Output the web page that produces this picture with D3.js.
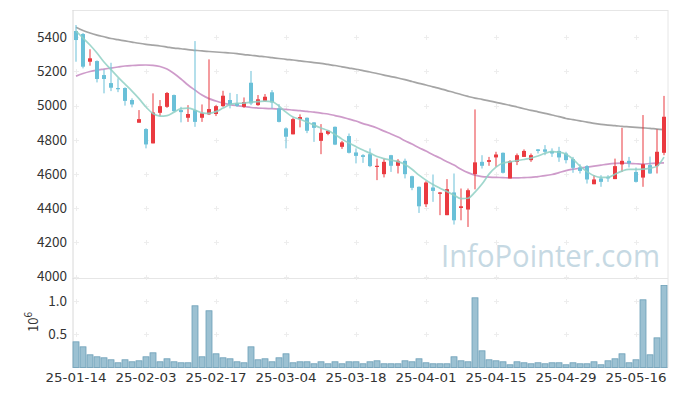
<!DOCTYPE html>
<html><head><meta charset="utf-8">
<script src="https://cdn.jsdelivr.net/npm/d3@7"></script>
<style>body{margin:0;background:#fff}svg{display:block}</style>
</head><body><svg id="c" width="677" height="396"></svg>
<script>
const dates = ["2025-01-14","2025-01-15","2025-01-16","2025-01-17","2025-01-20","2025-01-21","2025-01-22","2025-01-23","2025-01-24","2025-01-31",
"2025-02-03","2025-02-04","2025-02-05","2025-02-06","2025-02-07","2025-02-10","2025-02-11","2025-02-12","2025-02-13","2025-02-14",
"2025-02-17","2025-02-18","2025-02-19","2025-02-20","2025-02-21","2025-02-24","2025-02-25","2025-02-26","2025-02-27","2025-02-28",
"2025-03-04","2025-03-05","2025-03-06","2025-03-07","2025-03-10","2025-03-11","2025-03-12","2025-03-13","2025-03-14","2025-03-17",
"2025-03-18","2025-03-19","2025-03-20","2025-03-21","2025-03-24","2025-03-25","2025-03-26","2025-03-27","2025-03-28","2025-03-31",
"2025-04-01","2025-04-02","2025-04-03","2025-04-04","2025-04-07","2025-04-08","2025-04-09","2025-04-10","2025-04-11","2025-04-14",
"2025-04-15","2025-04-16","2025-04-17","2025-04-18","2025-04-21","2025-04-22","2025-04-23","2025-04-24","2025-04-25","2025-04-28",
"2025-04-29","2025-04-30","2025-05-02","2025-05-07","2025-05-08","2025-05-09","2025-05-12","2025-05-13","2025-05-14","2025-05-15",
"2025-05-16","2025-05-19","2025-05-20","2025-05-21","2025-05-22"];
const open  = [5437,5419,5257,5261,5179,5132,5103,5103,5033,4900, 4863,4779,4958,4993,5062,4974,4929,4974,4929,4949,
 4951,4997,5033,5013,4993,5134,5003,5028,5078,4984, 4867,4832,4921,4929,4902,4794,4835,4876,4759,4822,
 4726,4710,4716,4642,4599,4710,4648,4677,4587,4525, 4423,4521,4484,4359,4492,4401,4392,4599,4671,4671,
 4697,4724,4574,4671,4700,4681,4744,4744,4735,4735, 4720,4687,4638,4646,4540,4574,4583,4570,4656,4677,
 4612,4579,4652,4646,4724];
const high  = [5472,5425,5330,5265,5212,5251,5160,5107,5043,4974, 4868,5072,5033,5080,5065,4993,5003,5378,5007,5271,
 5003,5087,5075,5068,5048,5203,5062,5068,5091,5009, 4873,4929,4949,4931,4904,4892,4857,4878,4794,4837,
 4750,4716,4750,4690,4690,4712,4687,4690,4590,4527, 4558,4597,4495,4570,4603,4515,4515,4978,4710,4700,
 4730,4726,4681,4720,4744,4720,4746,4769,4750,4759, 4730,4700,4657,4652,4593,4593,4593,4690,4870,4700,
 4638,4945,4702,4861,5057];
const low   = [5257,5218,5234,5136,5072,5085,5079,5000,4990,4900, 4750,4779,4939,4987,4964,4902,4905,4876,4905,4945,
 4939,4993,4984,4993,4987,5003,4999,5023,4984,4902, 4750,4832,4873,4839,4788,4716,4827,4769,4747,4720,
 4662,4665,4640,4564,4580,4612,4603,4574,4505,4372, 4407,4437,4359,4359,4304,4329,4290,4510,4632,4648,
 4642,4603,4574,4652,4700,4671,4720,4710,4700,4671, 4662,4607,4603,4544,4540,4525,4554,4570,4612,4638,
 4550,4525,4600,4603,4710];
const close = [5384,5228,5277,5156,5156,5105,5099,5028,5007,4921, 4773,4960,4997,5074,4968,4962,4951,4905,4955,4980,
 4997,5058,5007,4999,5021,5013,5037,5052,5019,4905, 4818,4921,4933,4853,4870,4841,4853,4772,4785,4724,
 4706,4700,4646,4648,4671,4648,4677,4599,4519,4411, 4550,4501,4492,4511,4329,4411,4505,4668,4648,4681,
 4714,4607,4675,4710,4735,4710,4735,4730,4720,4697, 4681,4636,4618,4568,4568,4554,4574,4646,4677,4662,
 4554,4657,4603,4730,4935];
// volume in millions of shares
const volume = [0.386,0.311,0.191,0.161,0.146,0.116,0.071,0.116,0.086,0.101, 0.161,0.221,0.086,0.131,0.086,0.071,0.071,0.928,0.161,0.853,
 0.206,0.146,0.131,0.086,0.071,0.311,0.116,0.131,0.086,0.146, 0.206,0.071,0.086,0.086,0.056,0.086,0.056,0.086,0.056,0.086,
 0.086,0.056,0.086,0.101,0.056,0.056,0.056,0.101,0.086,0.131, 0.071,0.056,0.056,0.056,0.161,0.101,0.086,1.048,0.251,0.116,
 0.101,0.086,0.041,0.086,0.071,0.056,0.071,0.056,0.071,0.071, 0.041,0.071,0.056,0.056,0.086,0.041,0.101,0.131,0.206,0.071,
 0.116,1.018,0.191,0.446,1.233];
const maShort = [5437,5396,5355,5308,5255,5211,5167,5126,5085,5041, 4992,4954,4939,4942,4962,4983,4986,4974,4958,4955,
 4965,4986,5006,5013,5015,5021,5023,5027,5024,4997, 4962,4933,4920,4904,4886,4869,4854,4831,4804,4781,
 4760,4740,4722,4702,4690,4681,4672,4655,4628,4593, 4564,4538,4517,4497,4476,4456,4458,4494,4541,4599,
 4640,4664,4671,4678,4685,4693,4705,4721,4731,4728, 4716,4687,4646,4614,4590,4580,4580,4599,4617,4627,
 4627,4628,4634,4646,4699];
const maMid = [5173,5188,5200,5208,5214,5220,5226,5232,5235,5237, 5238,5236,5229,5214,5188,5156,5121,5091,5062,5041,
 5027,5015,5006,5000,4995,4989,4986,4984,4982,4980, 4978,4974,4971,4966,4962,4956,4951,4942,4933,4921,
 4910,4895,4883,4869,4851,4834,4816,4795,4775,4754, 4734,4713,4693,4672,4652,4628,4608,4593,4585,4582,
 4580,4579,4577,4577,4579,4580,4585,4590,4597,4608, 4620,4628,4634,4640,4646,4652,4658,4662,4664,4662,
 4660,4658,4661,4664,4665];
const maLong = [5459,5440,5425,5413,5403,5393,5386,5379,5372,5365, 5359,5354,5349,5343,5337,5333,5328,5324,5320,5317,
 5314,5311,5308,5304,5299,5295,5290,5286,5281,5276, 5271,5267,5262,5257,5252,5247,5241,5235,5227,5220,
 5213,5205,5197,5188,5179,5170,5162,5152,5141,5130, 5121,5110,5100,5088,5077,5065,5054,5044,5037,5028,
 5019,5010,5002,4992,4982,4972,4964,4955,4945,4936, 4925,4918,4911,4904,4896,4890,4886,4883,4879,4876,
 4873,4870,4867,4863,4860];
const priceTicks = [4000,4200,4400,4600,4800,5000,5200,5400];
const volTicks = [0.5,1.0];
const volExponent = "6";

const svg = d3.select("#c");
const font = "'Noto Sans CJK KR','Noto Sans',sans-serif";
const L = 72.5, R = 667.5, T = 10, SEP = 278, B = 367.5;
const idx = d3.range(dates.length);
const x = d3.scaleBand().domain(idx).range([L, R]).padding(0);
const cx = i => x(i) + x.bandwidth()/2;
const y = d3.scaleLinear().domain([4000,5400]).range([276.5,37.3]);
const yv = d3.scaleLinear().domain([0,1]).range([B,301]);
const xTickIdx = idx.filter(i => i % 10 === 0);
const fmt = d3.timeFormat("%y-%m-%d"), parse = d3.timeParse("%Y-%m-%d");

// frame
const g0 = svg.append("g").attr("stroke","#e6e6e6").attr("stroke-width",1);
g0.append("line").attr("x1",L).attr("x2",R+0.5).attr("y1",T+0.5).attr("y2",T+0.5);
g0.append("line").attr("x1",L).attr("x2",R+0.5).attr("y1",SEP+0.5).attr("y2",SEP+0.5);
g0.append("line").attr("x1",R+0.5).attr("x2",R+0.5).attr("y1",T).attr("y2",B);
g0.append("line").attr("x1",L).attr("x2",R+0.5).attr("y1",B).attr("y2",B).attr("stroke","#d8d8d8");
g0.append("line").attr("x1",L+0.5).attr("x2",L+0.5).attr("y1",T).attr("y2",B).attr("stroke","#d8d8d8");

// grid crosses
const crossRows = priceTicks.map(v => y(v)).concat(volTicks.map(v => yv(v)));
const gc = svg.append("g").attr("stroke","#ededed").attr("stroke-width",1);
xTickIdx.forEach(i => crossRows.forEach(r => {
  const px = Math.round(cx(i)) + 0.5, py = Math.round(r) + 0.5;
  gc.append("line").attr("x1",px-2.5).attr("x2",px+2.5).attr("y1",py).attr("y2",py);
  gc.append("line").attr("x1",px).attr("x2",px).attr("y1",py-2.5).attr("y2",py+2.5);
}));

// watermark
svg.append("text").attr("x",660).attr("y",267).attr("text-anchor","end")
  .attr("font-family","'Open Sans',sans-serif").attr("font-size",31)
  .attr("textLength",219).attr("lengthAdjust","spacingAndGlyphs")
  .attr("fill","#c6d9e3").text("InfoPointer.com");

// y labels
svg.append("g").selectAll("text").data(priceTicks).join("text")
  .attr("x",67).attr("y",d=>y(d)).attr("dy","0.35em").attr("text-anchor","end")
  .attr("font-family",font).attr("font-size",13.5).attr("fill","#333").text(d=>d);
svg.append("g").selectAll("text").data(volTicks).join("text")
  .attr("x",67).attr("y",d=>yv(d)).attr("dy","0.35em").attr("text-anchor","end")
  .attr("font-family",font).attr("font-size",13.5).attr("fill","#333").text(d=>d.toFixed(1));
const expT = svg.append("text").attr("transform","translate(37.5,322) rotate(-90)").attr("text-anchor","middle")
  .attr("font-family",font).attr("font-size",13).attr("fill","#333");
expT.append("tspan").text("10");
expT.append("tspan").attr("dy",-6).attr("font-size",10).text(volExponent);

// x labels
svg.append("g").selectAll("text").data(xTickIdx).join("text")
  .attr("x",i=>cx(i)).attr("y",382).attr("text-anchor","middle")
  .attr("font-family","'DejaVu Sans',sans-serif").attr("font-size",13).attr("fill","#333")
  .attr("textLength",61).attr("lengthAdjust","spacingAndGlyphs")
  .text(i=>fmt(parse(dates[i])));

// volume bars
svg.append("g").selectAll("rect").data(idx).join("rect")
  .attr("x",i=>x(i)+0.5).attr("width",x.bandwidth()-1)
  .attr("y",i=>yv(volume[i])).attr("height",i=>yv(0)-yv(volume[i]))
  .attr("fill","#9cc1d2").attr("stroke","#6c9fb7").attr("stroke-width",0.8);

// MA lines
const line = arr => d3.line().x((d,i)=>cx(i)).y(d=>y(d)).curve(d3.curveMonotoneX)(arr);
svg.append("path").attr("d",line(maLong)).attr("fill","none").attr("stroke","#8f8f8f").attr("stroke-width",1.7).attr("opacity",0.8);
svg.append("path").attr("d",line(maMid)).attr("fill","none").attr("stroke","#c282bd").attr("stroke-width",1.7).attr("opacity",0.8);

// candles
const up = i => close[i] >= open[i];
const cg = svg.append("g");
cg.selectAll("rect.w").data(idx).join("rect").attr("class","w")
  .attr("x",i=>Math.round(cx(i))-0.5).attr("width",1)
  .attr("y",i=>y(high[i])).attr("height",i=>Math.max(1,y(low[i])-y(high[i])))
  .attr("fill",i=>up(i)?"#ea3a40":"#6ac0d8");
cg.selectAll("rect.b").data(idx).join("rect").attr("class","b")
  .attr("x",i=>Math.round(cx(i))-2).attr("width",4)
  .attr("y",i=>y(Math.max(open[i],close[i])))
  .attr("height",i=>Math.max(1.2,Math.abs(y(open[i])-y(close[i]))))
  .attr("fill",i=>up(i)?"#ea3a40":"#6ac0d8");

svg.append("path").attr("d",line(maShort)).attr("fill","none").attr("stroke","#8fd0c4").attr("stroke-width",1.7).attr("opacity",0.85);
</script></body></html>
